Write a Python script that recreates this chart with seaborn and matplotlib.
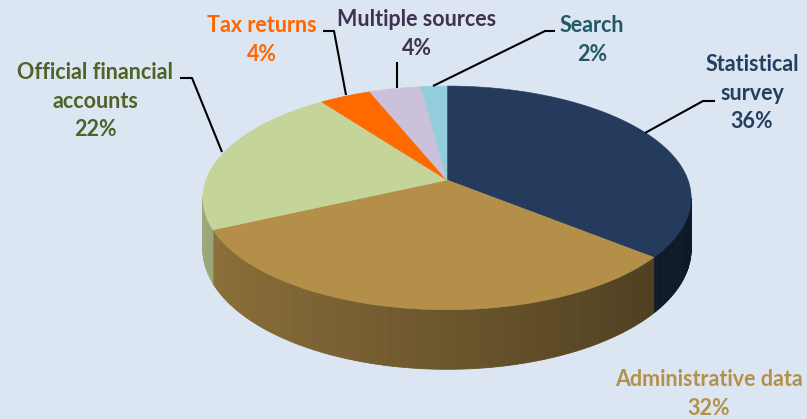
import numpy as np
import matplotlib
matplotlib.use("Agg")
import matplotlib.pyplot as plt
import seaborn as sns
from matplotlib.colors import to_rgb

# data
labels = ["Statistical\nsurvey", "Administrative data", "Official financial\naccounts",
          "Tax returns", "Multiple sources", "Search"]
shares = [36, 32, 22, 4, 4, 2]
slice_colors = ["#243B5D", "#B38F4A", "#C5D59A", "#FF6A00", "#CCC1DA", "#93CDDD"]
text_colors = ["#243F60", "#B3914A", "#4F6228", "#FF6600", "#3F3151", "#215968"]

# label placement (pixels, origin top-left) and leader lines
label_pos = [(752, 93), (709, 394), (95, 101), (262, 40), (417, 34), (592, 40)]
leaders = [
    [(645, 133), (703, 101), (715, 101)],
    None,
    [(222, 152), (192, 78), (180, 78)],
    [(346, 95), (334, 31), (323, 31)],
    [(397, 88), (397, 62)],
    [(433, 86), (545, 31), (555, 31)],
]

bg = "#DCE6F2"
W, H = 807, 419
# simple perspective view of a tilted disc
cx, apex_y, sx, sy, k, depth = 447, 180, 241, 109, 0.16, 50


def project(theta, drop=0.0):
    x, y = np.cos(theta), np.sin(theta)
    w = 1 + k * y
    return cx + sx * x / w, apex_y - sy * y / w + drop / w


sns.set_theme(style="white")
plt.rcParams['font.family'] = ['Lato', 'DejaVu Sans']

fig = plt.figure(figsize=(W / 100, H / 100), dpi=100)
fig.patch.set_facecolor(bg)
ax = fig.add_axes([0, 0, 1, 1])
ax.set_xlim(0, W)
ax.set_ylim(H, 0)
ax.axis('off')
ax.set_facecolor(bg)

cum = np.concatenate([[0], np.cumsum(shares)]) / sum(shares)
vis_lo, vis_hi = -180 + np.degrees(np.arcsin(k)), -np.degrees(np.arcsin(k))

# side of the cylinder, shaded light -> dark from left to right
for i, col in enumerate(slice_colors):
    t1 = 90 - 360 * cum[i]
    t2 = 90 - 360 * cum[i + 1]
    lo, hi = max(t2, vis_lo), min(t1, vis_hi)
    if lo >= hi:
        continue
    base = np.array(to_rgb(col))
    ts = np.radians(np.linspace(lo, hi, max(int(hi - lo), 2) + 1))
    for a, b in zip(ts[:-1], ts[1:]):
        xa, ya = project(a)
        xb, yb = project(b)
        xa2, ya2 = project(a, depth)
        xb2, yb2 = project(b, depth)
        xm = np.cos((a + b) / 2)
        c = np.clip(base * (0.6 - 0.2 * xm), 0, 1)
        ax.fill([xa, xb, xb2, xa2], [ya, yb, yb2, ya2], color=c, lw=0.6, ec=c)

# top face
for i, col in enumerate(slice_colors):
    t1 = 90 - 360 * cum[i]
    t2 = 90 - 360 * cum[i + 1]
    ts = np.radians(np.linspace(t1, t2, max(int(abs(t1 - t2)), 2) + 1))
    px, py = project(ts)
    ax.fill(np.r_[cx, px], np.r_[apex_y, py], color=col, lw=0.4, ec=col)

for lab, s, (x, y), tc, ld in zip(labels, shares, label_pos, text_colors, leaders):
    ax.text(x, y, f"{lab}\n{s}%", ha="center", va="center", color=tc,
            fontsize=15.5, fontweight="bold", linespacing=1.42)
    if ld:
        lx, ly = zip(*ld)
        ax.plot(lx, ly, color="black", lw=1.5, solid_capstyle="butt")

fig.savefig("out.png", dpi=100, facecolor=bg)
